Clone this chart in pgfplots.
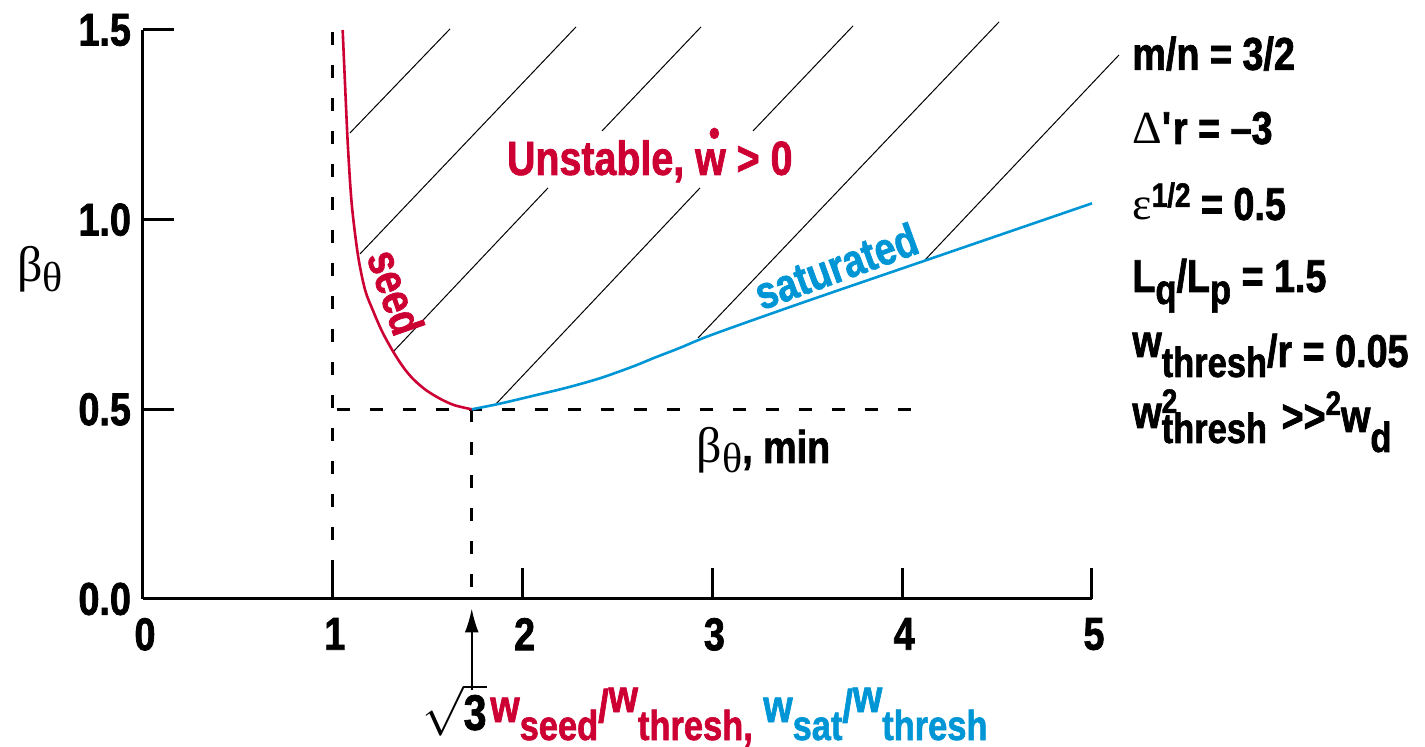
\documentclass[border=0pt]{standalone}
\usepackage{fontspec}
\setmainfont{Liberation Sans}[FakeStretch=0.82, BoldFeatures={FakeBold=1.5}]
\newfontfamily\grk{Liberation Serif}
\usepackage{pgfplots}
\pgfplotsset{compat=1.18}
\usetikzlibrary{arrows.meta}
\definecolor{seedred}{RGB}{204,0,51}
\definecolor{satblue}{RGB}{0,150,214}
\newcommand\fs{\fontsize{23}{27}\selectfont\bfseries}
\newcommand\sbs{\fontsize{21}{23}\selectfont\bfseries}
\newcommand\sps{\fontsize{17}{19}\selectfont\bfseries}
\begin{document}
\begin{tikzpicture}
\begin{axis}[
  at={(0pt,0pt)}, anchor=south west,
  scale only axis, width=474.5pt, height=284.5pt,
  xmin=0, xmax=5, ymin=0, ymax=1.5,
  axis x line=bottom, axis y line=left,
  axis line style={-, line width=1.5pt, black},
  xtick={0,1,2,3,4,5}, xticklabels={0,1,2,3,4,5},
  ytick={0,0.5,1,1.5}, yticklabels={0.0,0.5,1.0,1.5},
  tick align=inside, major tick length=15.5pt,
  tick style={line width=1.5pt, black},
  ticklabel style={font=\fs},
  xticklabel style={yshift=-6pt, xshift=1pt},
  yticklabel style={xshift=-2.5pt},
  clip=false,
]
% dashed guides
\addplot[black, line width=1.5pt, dash pattern=on 6.5pt off 10pt] coordinates {(1,1.495) (1,0)};
\addplot[black, line width=1.5pt, dash pattern=on 6.5pt off 10pt] coordinates {(1.02,0.5) (4.12,0.5)};
\addplot[black, line width=1.5pt, dash pattern=on 6.5pt off 10pt] coordinates {(1.7321,0.5) (1.7321,0.01)};
% hatching
\addplot[black, line width=0.5pt] coordinates {(1.0906,1.2286) (1.6175,1.5028)};
\addplot[black, line width=0.5pt] coordinates {(1.1433,0.9096) (2.2813,1.5080)};
\addplot[black, line width=0.5pt] coordinates {(1.3172,0.6512) (2.1338,1.0836)};
\addplot[black, line width=0.5pt] coordinates {(2.4183,1.2338) (2.9399,1.5080)};
\addplot[black, line width=0.5pt] coordinates {(1.8598,0.5141) (2.9347,1.0836)};
\addplot[black, line width=0.5pt] coordinates {(3.2139,1.2338) (3.7408,1.5107)};
\addplot[black, line width=0.5pt] coordinates {(2.9241,0.6881) (4.5100,1.5212)};
\addplot[black, line width=0.5pt] coordinates {(4.1201,0.8937) (5.1423,1.4342)};
% seed curve
\addplot[seedred, line width=1.3pt, smooth, tension=0.5] coordinates {
 (1.052,1.500) (1.066,1.340) (1.080,1.190) (1.100,1.040) (1.133,0.905)
 (1.170,0.815) (1.212,0.760) (1.260,0.705) (1.317,0.653) (1.370,0.612)
 (1.423,0.580) (1.490,0.551) (1.565,0.528) (1.640,0.511) (1.7321,0.500)};
% saturated curve
\addplot[satblue, line width=1.3pt, smooth, tension=0.5] coordinates {
 (1.7321,0.500) (1.881,0.515) (2.050,0.535) (2.232,0.557) (2.408,0.582)
 (2.582,0.613) (2.700,0.637) (2.829,0.662) (3.000,0.697) (3.462,0.779)
 (4.120,0.892) (5.000,1.043)};
% arrow at sqrt(3)
\draw[-{Latex[length=12pt,width=7pt]}, line width=1pt] (axis cs:1.7321,-0.240) -- (axis cs:1.7321,-0.025);
% texts
\node[anchor=base west, inner sep=0pt, text=seedred, font=\fontsize{24}{28}\selectfont\bfseries] at (axis cs:1.916,1.118)
 {Unstable, \makebox[0pt][l]{\hspace{6.9pt}\raisebox{14.5pt}{\fontsize{19}{19}\selectfont •}}w > 0};
\node[rotate=-71, text=seedred, font=\fs] at (axis cs:1.333,0.809) {seed};
\node[rotate=20, text=satblue, font=\fs] at (axis cs:3.651,0.878) {saturated};
\node[anchor=base west, inner sep=0pt] at (axis cs:-0.665,0.837)
 {\grk\fontsize{25}{25}\selectfont β\raisebox{-5pt}{\fontsize{21}{21}\selectfont θ}};
\node[anchor=base west, inner sep=0pt] at (axis cs:2.915,0.3586)
 {{\grk\fontsize{25}{25}\selectfont β\raisebox{-5pt}{\fontsize{21}{21}\selectfont θ}}{\fs, min}};
% parameter list
\node[anchor=base west, inner sep=0pt, font=\fs] at (axis cs:5.211,1.395) {m/n = 3/2};
\node[anchor=base west, inner sep=0pt, font=\fs] at (axis cs:5.211,1.1996) {{\grk\mdseries Δ}\textquotesingle r = –3};
\node[anchor=base west, inner sep=0pt, font=\fs] at (axis cs:5.211,0.9992) {{\grk\mdseries ε}\raisebox{6.5pt}{\sps 1/2} = 0.5};
\node[anchor=base west, inner sep=0pt, font=\fs] at (axis cs:5.211,0.8094) {L\raisebox{-6pt}{\sbs q}/L\raisebox{-6pt}{\sbs p} = 1.5};
\node[anchor=base west, inner sep=0pt, font=\fs] at (axis cs:5.211,0.6117) {\raisebox{5pt}{w}\raisebox{-5pt}{\sbs thresh}/r = 0.05};
\node[anchor=base west, inner sep=0pt, font=\fs] at (axis cs:5.211,0.4403) {\raisebox{2pt}{w}\rlap{\raisebox{9.5pt}{\sps 2}}\raisebox{-5.5pt}{\sbs thresh} \kern2pt>\kern0pt>\raisebox{8.5pt}{\sps 2}w\raisebox{-10pt}{\sbs d}};
% x label
\node[anchor=base east, inner sep=0pt, font=\fs] at (axis cs:1.812,-0.345) {$\sqrt{\mbox{\fontsize{25}{27}\selectfont\bfseries 3}}$};
\node[anchor=base west, inner sep=0pt, font=\fs] at (axis cs:1.828,-0.3243)
 {\color{seedred}w\raisebox{-9pt}{\sbs seed}/\raisebox{5pt}{w}\raisebox{-9pt}{\sbs thresh,} \color{satblue}w\raisebox{-9pt}{\sbs sat}/\raisebox{5pt}{w}\raisebox{-9pt}{\sbs thresh}};
\end{axis}
\pgfresetboundingbox
\path[use as bounding box] (-71.5pt,-74pt) rectangle (641pt,299.5pt);
\end{tikzpicture}
\end{document}
